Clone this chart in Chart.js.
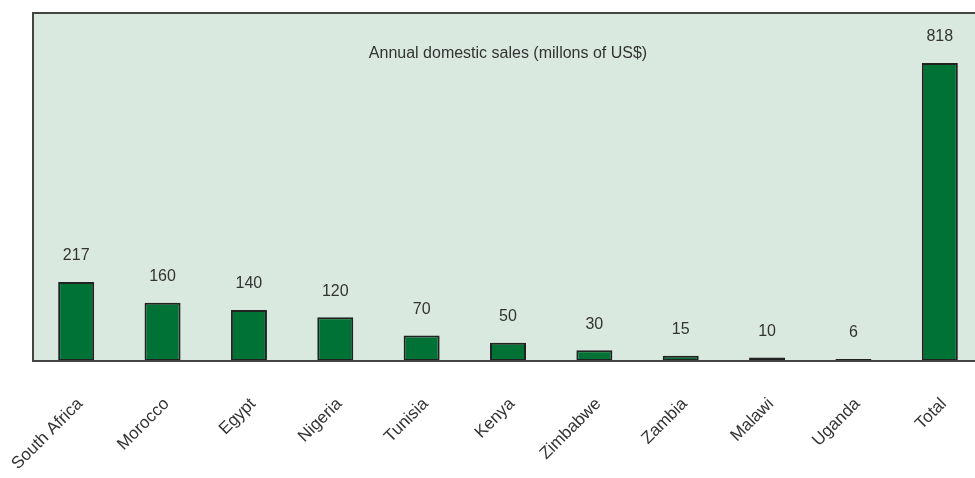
<!DOCTYPE html>
<html>
<head>
<meta charset="utf-8">
<script src="https://cdn.jsdelivr.net/npm/chart.js@4/dist/chart.umd.min.js"></script>
<style>
  html, body { margin: 0; padding: 0; background: #fff; overflow: hidden; }
  #wrap { position: absolute; left: 0; top: 0; width: 1000px; height: 527px; }
</style>
</head>
<body>
<div id="wrap"><canvas id="chart"></canvas></div>
<script>
const countries = ['South Africa', 'Morocco', 'Egypt', 'Nigeria', 'Tunisia', 'Kenya',
  'Zimbabwe', 'Zambia', 'Malawi', 'Uganda', 'Total']
const sales = [217, 160, 140, 120, 70, 50, 30, 15, 10, 6, 818]
const chartTitle = 'Annual domestic sales (millons of US$)'

const textColor = '#333333'
const frameColor = '#444444'
const fontFamily = '"Liberation Sans", Arial, Helvetica, sans-serif'

// background, frame, title and value labels
const panelPlugin = {
  id: 'panel',
  beforeDatasetsDraw(chart) {
    const { ctx, chartArea: a } = chart
    ctx.save()
    ctx.fillStyle = '#d9e9df'
    ctx.fillRect(a.left, a.top, a.right - a.left, a.bottom - a.top)
    ctx.fillStyle = textColor
    ctx.font = '16px ' + fontFamily
    ctx.textAlign = 'center'
    ctx.textBaseline = 'middle'
    ctx.fillText(chartTitle, (a.left + a.right) / 2, a.top + 41)
    ctx.restore()
  },
  afterDatasetsDraw(chart) {
    const { ctx, chartArea: a } = chart
    ctx.save()
    ctx.strokeStyle = frameColor
    ctx.lineWidth = 2
    ctx.beginPath()
    ctx.moveTo(a.right + 20, a.top)
    ctx.lineTo(a.left, a.top)
    ctx.lineTo(a.left, a.bottom)
    ctx.lineTo(a.right + 20, a.bottom)
    ctx.stroke()

    const meta = chart.getDatasetMeta(0)
    ctx.fillStyle = textColor
    ctx.font = '16px ' + fontFamily
    ctx.textAlign = 'center'
    ctx.textBaseline = 'middle'
    meta.data.forEach((bar, i) => {
      ctx.fillText(String(sales[i]), bar.x, bar.y - 26)
    })
    ctx.restore()
  },
}

const config = {
  type: 'bar',
  data: {
    labels: countries,
    datasets: [{
      data: sales,
      backgroundColor: '#007236',
      borderColor: '#222222',
      borderWidth: 2,
      borderSkipped: false,
      barPercentage: 0.417,
      categoryPercentage: 1,
    }],
  },
  options: {
    responsive: true,
    maintainAspectRatio: false,
    animation: false,
    layout: {
      padding: { left: 33, top: 13, right: 17, bottom: 20 },
    },
    scales: {
      y: {
        display: false,
        min: 0,
        max: 955,
      },
      x: {
        grid: { display: false, drawTicks: false },
        border: { display: false },
        afterFit(axis) {
          // keep the rotated first label from pushing the plot box right
          axis.paddingLeft = 0
          axis.paddingRight = 0
        },
        ticks: {
          color: textColor,
          minRotation: 45,
          maxRotation: 45,
          padding: 33,
          labelOffset: 4,
          font: { family: fontFamily, size: 17 },
        },
      },
    },
    plugins: {
      legend: { display: false },
      tooltip: { enabled: false },
    },
  },
  plugins: [panelPlugin],
}

new Chart(document.getElementById('chart'), config)
</script>
</body>
</html>
